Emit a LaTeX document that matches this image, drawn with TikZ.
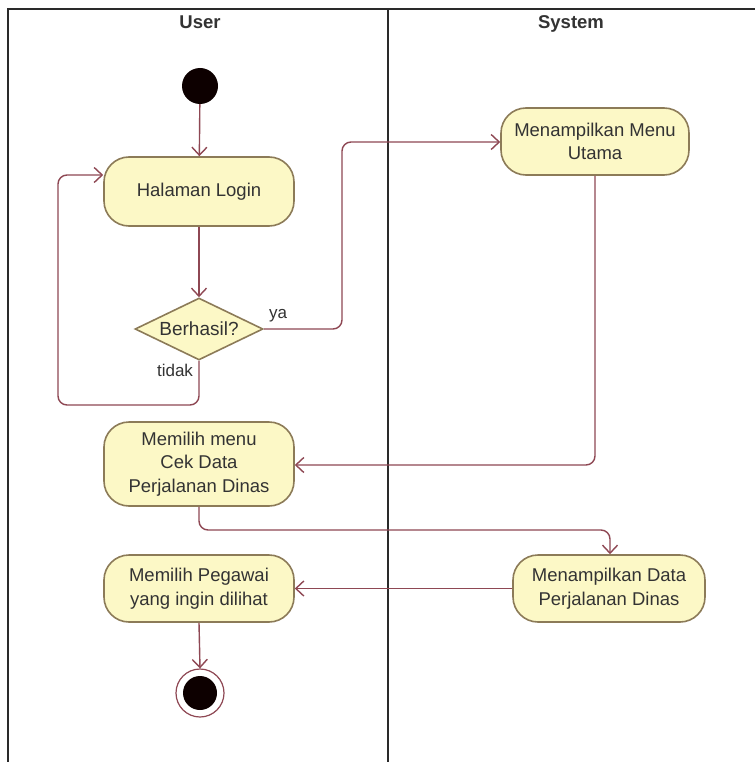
\documentclass[tikz,border=0pt]{standalone}
\usepackage{fontspec}
\setmainfont{Liberation Sans}
\usetikzlibrary{arrows.meta,shapes.geometric}

\definecolor{actfill}{HTML}{FCF8C6}
\definecolor{actline}{HTML}{8C7B58}
\definecolor{flowline}{HTML}{8E4753}
\definecolor{inktext}{HTML}{333333}
\definecolor{laneline}{HTML}{2A2A2A}

\tikzset{
  action/.style={rectangle, rounded corners=25pt, draw=actline, fill=actfill,
    line width=1.6pt, align=center, text=inktext, inner sep=0pt,
    font=\fontsize{18.5}{23.5}\selectfont},
  decision/.style={diamond, draw=actline, fill=actfill, line width=1.6pt,
    inner sep=0pt, text=inktext},
  flow/.style={draw=flowline, line width=1.4pt,
    -{Straight Barb[length=8pt,width=15pt,line width=1.4pt]}},
  flowbend/.style={flow, rounded corners=9pt},
  lane/.style={draw=laneline, line width=1.3pt},
  lanehead/.style={font=\fontsize{18.5}{22}\selectfont\bfseries, text=inktext,
    anchor=base},
  guard/.style={font=\fontsize{17}{20}\selectfont, text=inktext},
  startdot/.style={circle, fill=black!95!red, minimum size=36pt, inner sep=0pt},
  endring/.style={circle, draw=flowline, fill=white, line width=1.2pt,
    minimum size=48pt, inner sep=0pt},
  enddot/.style={circle, fill=black!95!red, minimum size=34pt, inner sep=0pt},
}

\begin{document}
\begin{tikzpicture}[x=1pt,y=-1pt]
\useasboundingbox (0,0) rectangle (755,762);
\fill[white] (0,0) rectangle (755,762);

% swimlane frame
\draw[lane, line width=1.8pt] (8,762) -- (8,9) -- (755,9);
\draw[lane] (388,9) -- (388,762);
\node[lanehead] (laneUser) at (200,29) {User};
\node[lanehead] (laneSystem) at (571,29) {System};

% activity nodes
\node[startdot] (start) at (200,86) {};
\node[action, minimum width=190pt, minimum height=69pt] (login) at (199,191.5) {Halaman Login};
\node[decision, minimum width=128pt, minimum height=62pt,
      label={[font=\fontsize{19}{22}\selectfont, text=inktext]center:Berhasil?}] (check) at (199,329) {};
\node[action, minimum width=188pt, minimum height=67pt] (menu) at (595,141.5) {Menampilkan Menu\\Utama};
\node[action, minimum width=190pt, minimum height=84pt] (cek) at (199,464) {Memilih menu\\Cek Data\\Perjalanan Dinas};
\node[action, minimum width=192pt, minimum height=67pt] (data) at (609,588.5) {Menampilkan Data\\Perjalanan Dinas};
\node[action, minimum width=190pt, minimum height=67pt] (pegawai) at (199,588.5) {Memilih Pegawai\\yang ingin dilihat};
\node[endring] (finish) at (200,693) {};
\node[enddot] (finishdot) at (finish.center) {};

% guard labels
\node[guard] (ya) at (278,316) {ya};
\node[guard] (tidak) at (175,370) {tidak};

% control flow
\draw[flow] (start) -- (login);
\draw[flow] (login) -- (check);
\draw[flowbend] (check.south) -- (199,405) -- (58,405) -- (58,175) -- ([yshift=16.5pt]login.west);
\draw[flowbend] (check.east) -- (342,329) -- (342,142) -- (menu.west |- 0,142);
\draw[flowbend] (menu.south) -- (menu.south |- 0,465) -- (cek.east |- 0,465);
\draw[flowbend] (cek.south) -- (199,530) -- (610,530) -- (data.north -| 610,0);
\draw[flow] (data.west) -- (pegawai.east);
\draw[flow] (pegawai.south) -- (finish.north);
\end{tikzpicture}
\end{document}
